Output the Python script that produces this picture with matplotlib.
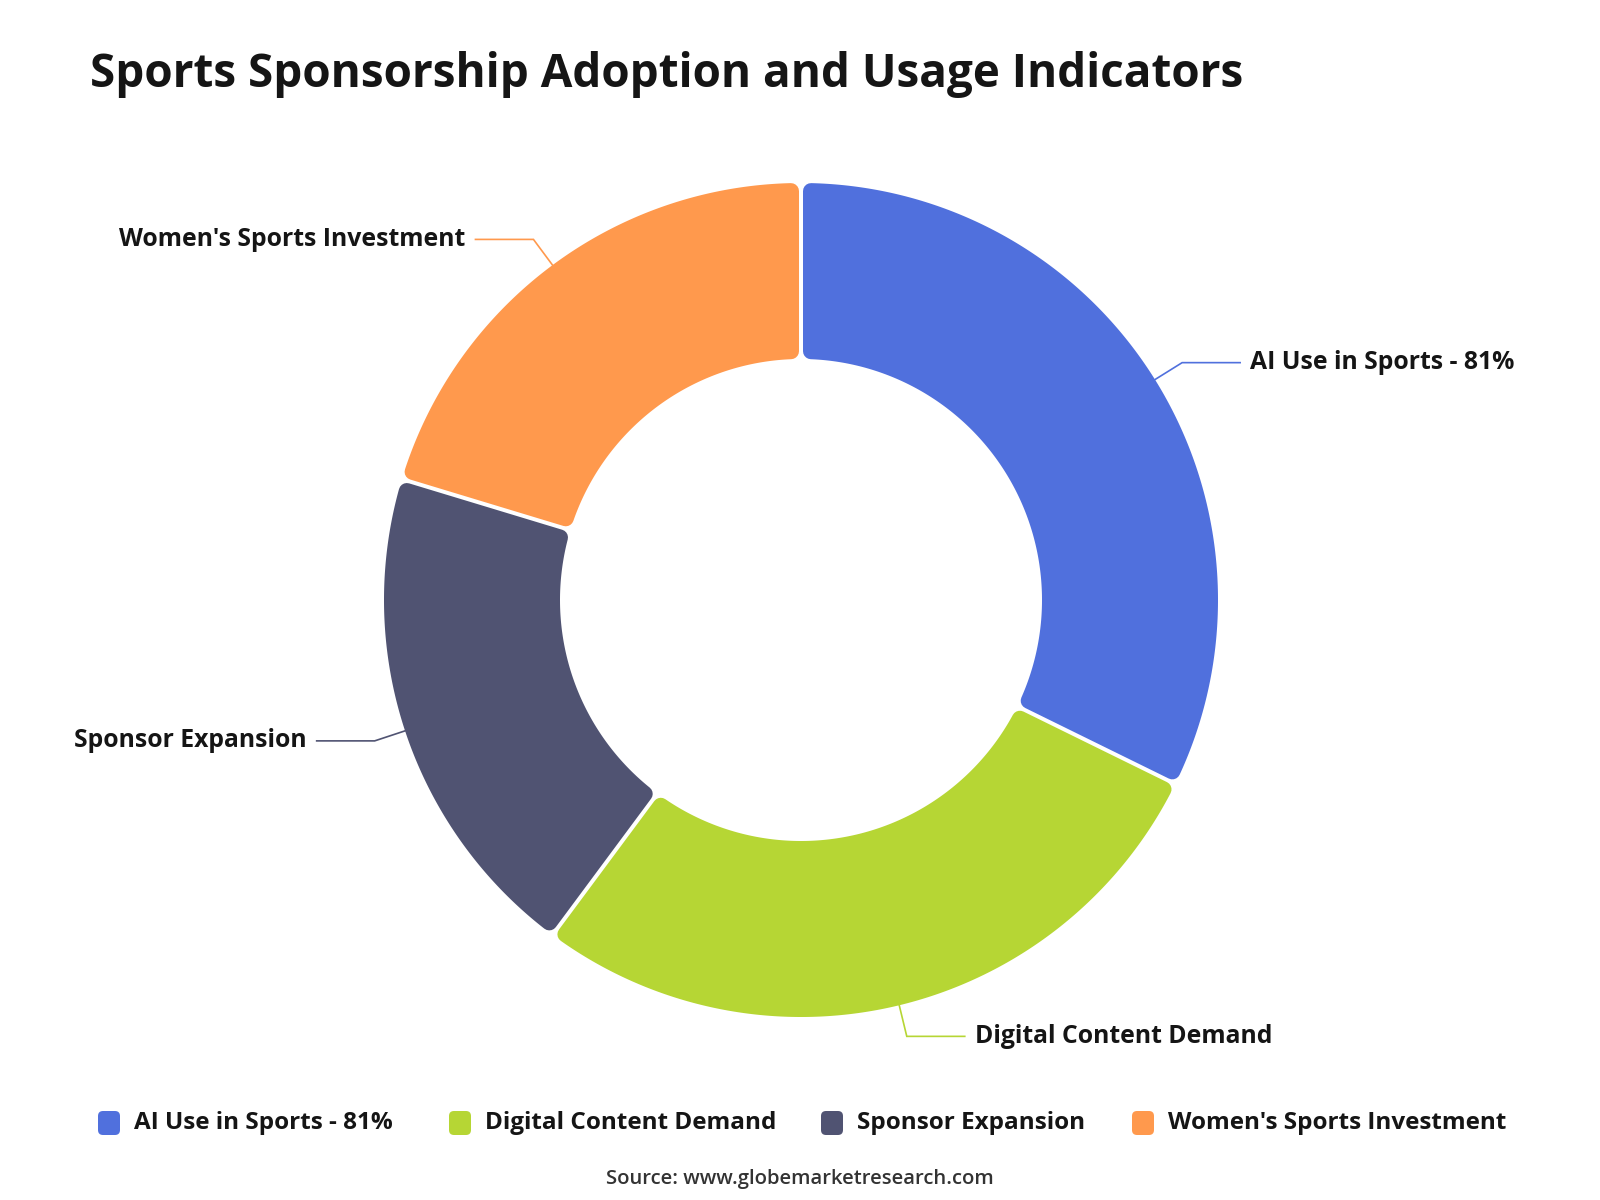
import numpy as np
import matplotlib.pyplot as plt
from matplotlib.patches import Polygon, FancyBboxPatch

categories = ['AI Use in Sports - 81%', 'Digital Content Demand',
              'Sponsor Expansion', "Women's Sports Investment"]
values = [81, 70, 49, 51]
colors = ['#5070dd', '#b6d634', '#505372', '#ff994d']
legend_x = [98, 449, 821, 1132]

plt.rcParams['font.family'] = ['Open Sans', 'DejaVu Sans']
txt_color = '#151515'

fig = plt.figure(figsize=(16, 12), dpi=100)
ax = fig.add_axes([0, 0, 1, 1])
ax.set_xlim(0, 1600)
ax.set_ylim(0, 1200)
ax.axis('off')

# donut geometry in pixels (y up)
cx, cy = 801, 600
r_out, r_in = 417, 241
corner = 8
gap = 2


def rounded_slice(a_lo, a_hi, color):
    """ slice between two angles (deg) drawn with rounded corners via a round-joined stroke """
    ro = r_out - corner
    ri = r_in + corner
    d = corner + gap
    o1 = np.radians(a_lo) + np.arcsin(d / ro)
    o2 = np.radians(a_hi) - np.arcsin(d / ro)
    i1 = np.radians(a_lo) + np.arcsin(d / ri)
    i2 = np.radians(a_hi) - np.arcsin(d / ri)
    t_out = np.linspace(o1, o2, 200)
    t_in = np.linspace(i2, i1, 200)
    pts = np.concatenate([
        np.column_stack([cx + ro * np.cos(t_out), cy + ro * np.sin(t_out)]),
        np.column_stack([cx + ri * np.cos(t_in), cy + ri * np.sin(t_in)]),
    ])
    lw = 2 * corner * 72 / fig.dpi
    poly = Polygon(pts, closed=True, facecolor=color, edgecolor=color,
                   linewidth=lw, joinstyle='round')
    ax.add_patch(poly)


total = float(sum(values))
edges = 90 - 360 * np.concatenate([[0], np.cumsum(values)]) / total

for i, (cat, color) in enumerate(zip(categories, colors)):
    a_hi, a_lo = edges[i], edges[i + 1]
    rounded_slice(a_lo, a_hi, color)

    # leader line + label
    mid = np.radians((a_lo + a_hi) / 2)
    x0, y0 = cx + r_out * np.cos(mid), cy + r_out * np.sin(mid)
    x1, y1 = cx + (r_out + 32) * np.cos(mid), cy + (r_out + 32) * np.sin(mid)
    side = 1 if np.cos(mid) >= 0 else -1
    x2 = x1 + side * 58
    ax.plot([x0, x1, x2], [y0, y1, y1], color=color, lw=1.2,
            solid_joinstyle='miter')
    ax.text(x2 + side * 10, y1, cat, ha='left' if side > 0 else 'right',
            va='center', fontsize=17.8, fontweight='bold', color=txt_color)

# title
fig.text(90 / 1600, 1 - 74 / 1200, 'Sports Sponsorship Adoption and Usage Indicators',
         fontsize=33, fontweight='bold', color=txt_color, va='center', ha='left')

# legend
leg_y = 1200 - 1123
for cat, color, lx in zip(categories, colors, legend_x):
    box = FancyBboxPatch((lx + 3, leg_y - 9), 16, 18,
                         boxstyle='round,pad=3,rounding_size=5',
                         facecolor=color, edgecolor='none')
    ax.add_patch(box)
    ax.text(lx + 36, leg_y, cat, ha='left', va='center', fontsize=17.5,
            fontweight='bold', color=txt_color)

fig.text(0.5, 1 - 1179 / 1200, 'Source: www.globemarketresearch.com',
         fontsize=14.6, fontweight='semibold', color='#333333', ha='center', va='center')

fig.savefig('out.png', dpi=100, facecolor='white')
